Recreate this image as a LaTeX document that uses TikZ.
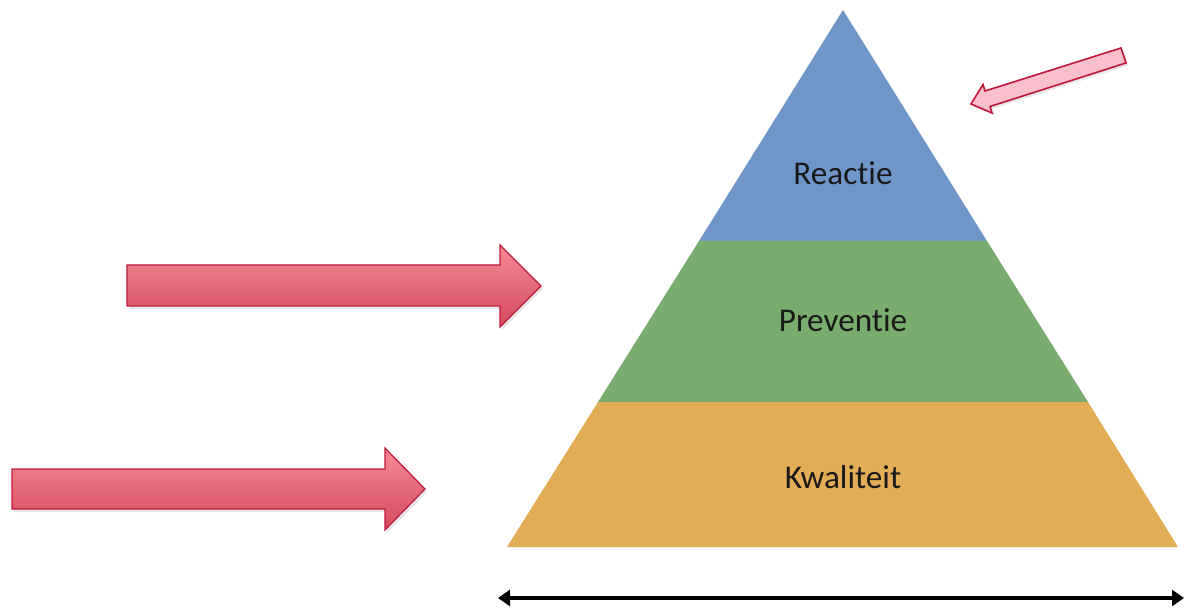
\documentclass[tikz,border=0pt]{standalone}
\usepackage{fontspec}
\setmainfont[Ligatures={NoCommon}]{Carlito}
\usetikzlibrary{arrows.meta,shadows}
\definecolor{topBlue}{HTML}{7096C9}
\definecolor{midGreen}{HTML}{7AAB6F}
\definecolor{baseOrange}{HTML}{E3AD56}
\definecolor{arrowRim}{HTML}{C0173D}
\definecolor{arrowTop}{HTML}{F58A94}
\definecolor{arrowBottom}{HTML}{D54A5C}
\definecolor{softPink}{HTML}{F9BFCC}
\newcommand{\layerFont}{\fontsize{16.6}{19}\selectfont}

\begin{document}
\begin{tikzpicture}[x=0.5pt, y=-0.5pt,
  layertext/.style={font=\layerFont, text=black!90, inner sep=0pt},
  fatarrow/.style={draw=arrowRim, line width=0.6pt, top color=arrowTop, bottom color=arrowBottom,
    line join=miter, drop shadow={shadow xshift=1pt, shadow yshift=-1.5pt, opacity=0.2}},
  thinarrow/.style={draw=arrowRim, line width=0.8pt, fill=softPink, line join=miter,
    drop shadow={shadow xshift=1.2pt, shadow yshift=-1.2pt, opacity=0.2}}]
  \useasboundingbox (0,0) rectangle (1184,609);

  % pyramid layers
  \fill[topBlue] (843,10) -- (987,241) -- (699,241) -- cycle;
  \fill[midGreen] (699,241) -- (987,241) -- (1088,402) -- (598,402) -- cycle;
  \fill[baseOrange] (598,402) -- (1088,402) -- (1178,547) -- (507,547) -- cycle;
  \node[layertext] (reactie) at (843,173) {Reactie};
  \node[layertext] (preventie) at (843,320) {Preventie};
  \node[layertext] (kwaliteit) at (843,477) {Kwaliteit};

  % big arrows
  \draw[fatarrow] (127,265) -- (500,265) -- (500,245) -- (541,286) -- (500,327) -- (500,306) -- (127,306) -- cycle;
  \draw[fatarrow] (12,469) -- (385,469) -- (385,448) -- (425,489) -- (385,530) -- (385,509) -- (12,509) -- cycle;

  % small pointer
  \draw[thinarrow] (1121,48) -- (1126,63) -- (990,106.5) -- (992,113) -- (971,104) -- (983,84.5) -- (985,91) -- cycle;

  % width axis
  \coordinate (axisL) at (498,598);
  \coordinate (axisR) at (1184,598);
  \draw[line width=1.8pt, {Triangle[length=6pt,width=8pt]}-{Triangle[length=6pt,width=8pt]}] (axisL) -- (axisR);
\end{tikzpicture}
\end{document}
